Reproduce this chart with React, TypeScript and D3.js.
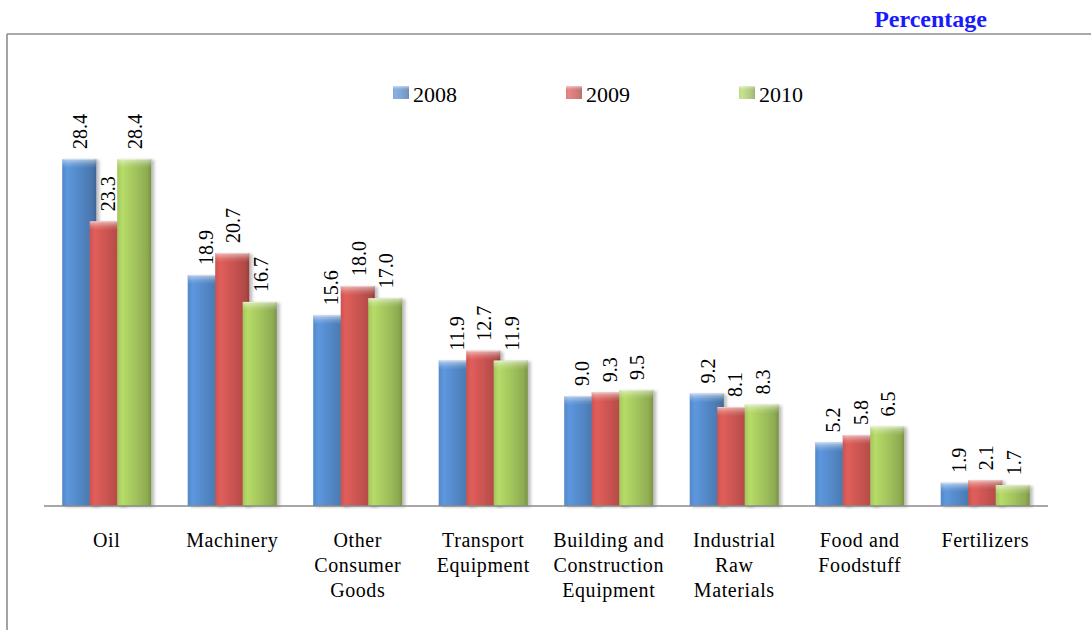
import React from "react";
import * as d3 from "d3";

const categories = [
  "Oil",
  "Machinery",
  "Other\nConsumer\nGoods",
  "Transport\nEquipment",
  "Building and\nConstruction\nEquipment",
  "Industrial\nRaw\nMaterials",
  "Food and\nFoodstuff",
  "Fertilizers",
];
const years = ["2008", "2009", "2010"];
const values2008 = [28.4, 18.9, 15.6, 11.9, 9.0, 9.2, 5.2, 1.9];
const values2009 = [23.3, 20.7, 18.0, 12.7, 9.3, 8.1, 5.8, 2.1];
const values2010 = [28.4, 16.7, 17.0, 11.9, 9.5, 8.3, 6.5, 1.7];
const seriesValues = [values2008, values2009, values2010];
const seriesColors = ["#4F81BD", "#C0504D", "#9BBB59"];
const unitText = "Percentage";

const W = 1091;
const H = 630;
const SERIF = "'Liberation Serif', 'Times New Roman', Times, serif";

export default function App() {
  const baseY = 506;
  const y = d3.scaleLinear().domain([0, 30]).range([baseY, baseY - 30 * 12.22]);
  const x = d3.scaleBand<string>().domain(categories).range([44, 1048]).padding(0);
  const inner = d3.scaleBand<string>().domain(years).range([0, 82.5]).padding(0);
  const barW = inner.step() * 1.24;
  const groupW = inner.step() * 2 + barW;

  return (
    <div style={{ position: "absolute", left: 0, top: 0 }}>
      <svg width={W} height={H} style={{ display: "block", background: "#fff" }}>
        <defs>
          {seriesColors.map((c, i) => {
            const col = d3.color(c)!;
            return (
              <linearGradient key={i} id={`g${i}`} x1="0" x2="1" y1="0" y2="0">
                <stop offset="0%" stopColor={col.brighter(0.15).formatHex()} />
                <stop offset="15%" stopColor={col.brighter(0.45).formatHex()} />
                <stop offset="55%" stopColor={col.brighter(0.1).formatHex()} />
                <stop offset="88%" stopColor={col.darker(0.25).formatHex()} />
                <stop offset="100%" stopColor={col.darker(0.7).formatHex()} />
              </linearGradient>
            );
          })}
          <linearGradient id="bevel" x1="0" x2="0" y1="0" y2="1">
            <stop offset="0%" stopColor="#fff" stopOpacity={0.55} />
            <stop offset="60%" stopColor="#fff" stopOpacity={0.15} />
            <stop offset="100%" stopColor="#fff" stopOpacity={0} />
          </linearGradient>
          <filter id="shadow" x="-20%" y="-5%" width="150%" height="115%">
            <feDropShadow dx="3" dy="1" stdDeviation="1.5" floodColor="#000" floodOpacity="0.25" />
          </filter>
        </defs>

        <text x={987} y={27} textAnchor="end" fontFamily={SERIF} fontSize={24} fontWeight="bold" fill="#1a1aff">
          {unitText}
        </text>

        {/* frame */}
        <line x1={7} x2={W} y1={34} y2={34} stroke="#8c8c8c" strokeWidth={1.6} />
        <line x1={7} x2={7} y1={34} y2={H} stroke="#8c8c8c" strokeWidth={1.6} />

        {/* legend */}
        {years.map((yr, i) => {
          const lx = 393 + i * 173;
          return (
            <g key={yr}>
              <rect x={lx} y={86} width={16} height={13} fill={`url(#g${i})`} opacity={0.75} />
              <rect x={lx} y={86} width={16} height={4} fill="url(#bevel)" />
              <text x={lx + 20} y={102} fontFamily={SERIF} fontSize={22} fill="#000">
                {yr}
              </text>
            </g>
          );
        })}

        {/* bars */}
        {categories.map((cat, ci) => {
          const cx = (x(cat) as number) + x.bandwidth() / 2;
          const gx = cx - groupW / 2;
          return (
            <g key={cat}>
              {years.map((yr, si) => {
                const v = seriesValues[si][ci];
                const bx = gx + (inner(yr) as number);
                const top = y(v);
                const h = baseY - top;
                return (
                  <g key={yr}>
                    <rect x={bx} y={top} width={barW} height={h} fill={`url(#g${si})`} filter="url(#shadow)" />
                    <rect x={bx} y={top} width={barW} height={Math.min(9, h)} fill="url(#bevel)" />
                    <line x1={bx + 1} x2={bx + barW - 1} y1={top + 0.5} y2={top + 0.5} stroke="#fff" strokeOpacity={0.35} />
                  </g>
                );
              })}
              {years.map((yr, si) => {
                const v = seriesValues[si][ci];
                const bx = gx + (inner(yr) as number) + barW / 2;
                const top = y(v);
                return (
                  <text
                    key={"l" + yr}
                    transform={`translate(${bx + 8},${top - 10}) rotate(-90)`}
                    fontFamily={SERIF}
                    fontSize={20}
                    fill="#000"
                  >
                    {v.toFixed(1)}
                  </text>
                );
              })}
              {cat.split("\n").map((ln, li) => (
                <text
                  key={"c" + li}
                  x={cx}
                  y={547 + li * 25}
                  textAnchor="middle"
                  fontFamily={SERIF}
                  fontSize={20}
                  letterSpacing={0.6}
                  fill="#000"
                >
                  {ln}
                </text>
              ))}
            </g>
          );
        })}

        {/* axis */}
        <line x1={44} x2={1048} y1={baseY} y2={baseY} stroke="#8a8a8a" strokeWidth={1.6} />
      </svg>
    </div>
  );
}
